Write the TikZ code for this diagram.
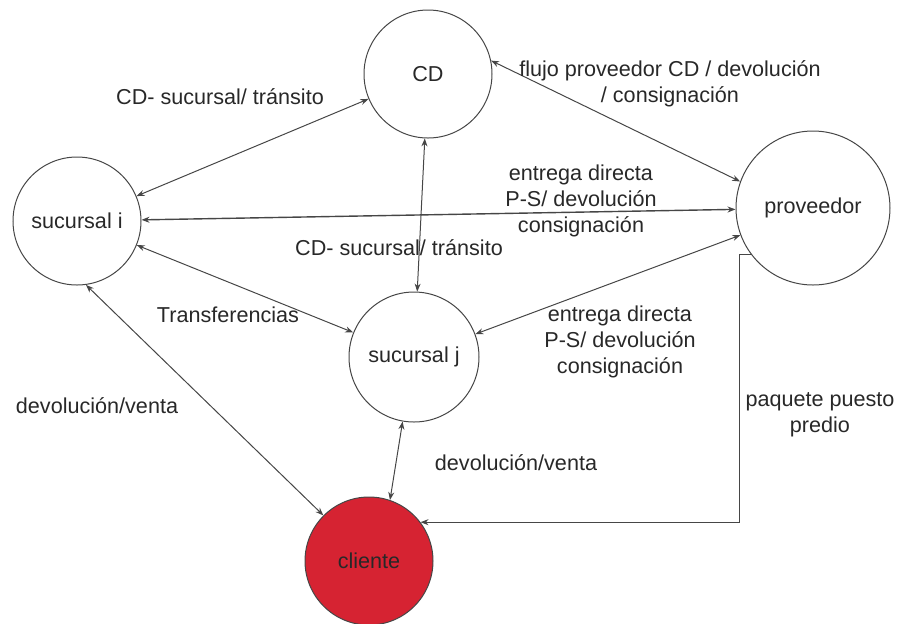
\documentclass[tikz,border=0pt]{standalone}
\usepackage{fontspec}
\setmainfont{Liberation Sans}
\usepackage{xcolor}
\usepackage{tikz}
\usetikzlibrary{arrows.meta}
\definecolor{linegray}{RGB}{70,70,70}
\definecolor{textgray}{RGB}{40,40,40}
\definecolor{clientred}{RGB}{214,35,50}

\begin{document}
\begin{tikzpicture}[x=0.5pt, y=-0.5pt,
  place/.style={circle, draw=linegray, line width=0.5pt, inner sep=0pt,
    font=\fontsize{10.8}{13}\selectfont, text=textgray},
  lbl/.style={align=center, inner sep=0pt,
    font=\fontsize{10.8}{13}\selectfont, text=textgray},
  arr/.style={{Stealth[length=4pt,width=3pt]}-{Stealth[length=4pt,width=3pt]},
    line width=0.5pt, linegray},
  one/.style={-{Stealth[length=4pt,width=3pt]}, line width=0.5pt, linegray},
]
  \useasboundingbox (0,0) rectangle (902,623);

  % nodes
  \node[place, minimum size=64pt] (cd) at (428,74) {CD};
  \node[place, minimum size=64pt] (suci) at (77,221) {sucursal i};
  \node[place, minimum size=77pt] (prov) at (813,208) {proveedor};
  \node[place, minimum size=65pt] (sucj) at (414,357) {sucursal j};
  \node[place, minimum size=64pt, fill=clientred] (cli) at (369,561) {cliente};

  % connectors
  \draw[arr] (suci) -- (cd);
  \draw[arr] (cd.12) -- (prov.160);
  \draw[arr, line width=0.7pt] (suci) -- (prov);
  \draw[arr] (cd) -- (sucj);
  \draw[arr] (suci) -- (sucj);
  \draw[arr] (sucj) -- (prov);
  \draw[arr] (suci.278) -- (cli.135);
  \draw[arr] (sucj.260) -- (cli.71);
  \draw[one] (prov.217) -- ++(-12,0) |- (cli.37);

  % labels
  \node[lbl] (l1) at (220,97) {CD- sucursal/ tránsito};
  \node[lbl] (l2) at (670,84) {flujo proveedor CD / devolución\\/ consignación};
  \node[lbl] (l3) at (581,201) {entrega directa\\P-S/ devolución\\consignación};
  \node[lbl] (l4) at (399,248) {CD- sucursal/ tránsito};
  \node[lbl] (l5) at (228,315) {Transferencias};
  \node[lbl] (l6) at (620,342) {entrega directa\\P-S/ devolución\\consignación};
  \node[lbl] (l7) at (97,406) {devolución/venta};
  \node[lbl] (l8) at (516,463) {devolución/venta};
  \node[lbl] (l9) at (820,415) {paquete puesto\\predio};
\end{tikzpicture}
\end{document}
